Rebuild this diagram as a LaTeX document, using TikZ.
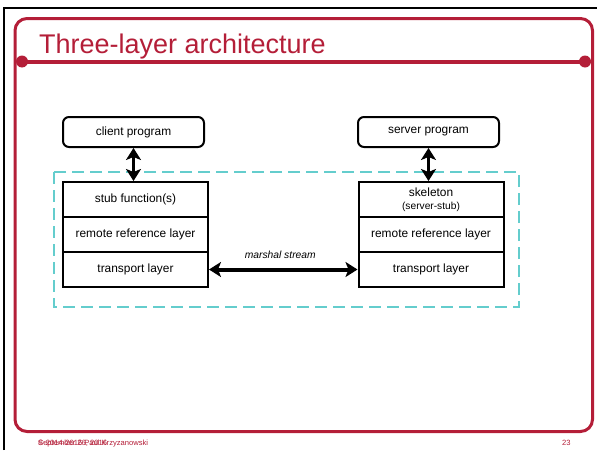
\documentclass[tikz,border=0pt]{standalone}
\usepackage{fontspec}
\setmainfont{Liberation Sans}
\usepackage{tikz}
\usetikzlibrary{arrows.meta,positioning}
\definecolor{slidered}{RGB}{180,30,56}
\definecolor{dashcyan}{RGB}{100,205,205}
\tikzset{layerbox/.style={draw,line width=2pt,minimum width=145pt,minimum height=35pt,inner sep=0pt,font=\fontsize{11.9}{14}\selectfont}}
\tikzset{progbox/.style={layerbox,rounded corners=6pt,minimum width=141pt,minimum height=30pt}}
\tikzset{footer/.style={anchor=base west,inner sep=0pt,text=slidered,font=\fontsize{7.6}{9}\selectfont}}

\begin{document}
\begin{tikzpicture}[x=1pt, y=-1pt, >={Stealth[length=12pt,width=15pt,inset=3pt]}]
        \tikzstyle{bigarrow}=[<->, line width=3.5pt]
        \useasboundingbox (0,0) rectangle (597,450);
        % slide frame
        \draw[line width=2pt] (4,450) -- (4,7.5) -- (597,7.5);
        \draw[slidered, line width=3pt, rounded corners=12pt] (15,18.5) rectangle (592.5,431.5);
        \draw[slidered, line width=4pt] (22,61.5) -- (585,61.5);
        \fill[slidered] (22,61.5) circle (6pt) (585,61.5) circle (6pt);
        \node[anchor=base west, inner sep=0pt, text=slidered, font=\fontsize{27}{30}\selectfont] (title) at (39,53) {Three-layer architecture};
        % dashed box
        \draw[dashcyan, line width=2.5pt, dash pattern=on 12pt off 6pt] (54,172) rectangle (519,307);
        % client side
        \node[progbox] (client) at (133.5,132) {client program};
        \node[layerbox] (stub) at (135.5,199.5) {stub function(s)};
        \node[layerbox] (lref) at (135.5,234.5) {remote reference layer};
        \node[layerbox] (ltrans) at (135.5,269.5) {transport layer};
        % server side
        \node[progbox] (server) at (428.5,132) {server program};
        \node[layerbox, align=center] (skel) at (431,199.5) {skeleton\\[-1pt]\fontsize{10.2}{12}\selectfont(server-stub)};
        \node[layerbox] (rref) at (431,234.5) {remote reference layer};
        \node[layerbox] (rtrans) at (431,269.5) {transport layer};
        \path (client.south) edge[bigarrow] (client.south |- stub.north);
        \path (server.south) edge[bigarrow] (server.south |- skel.north);
        \path (ltrans) edge[<->, line width=4pt] node[above=6pt, xshift=-3pt, font=\fontsize{10.3}{12}\selectfont\itshape] {marshal stream} (rtrans);
        % footer
        \node[footer] (copy) at (38,445) {© 2014-2016 Paul Krzyzanowski};
        \node[footer] (date) at (38,445) {September 26, 2016};
        \node[footer] (pageno) at (562,445) {23};
\end{tikzpicture}
\end{document}
